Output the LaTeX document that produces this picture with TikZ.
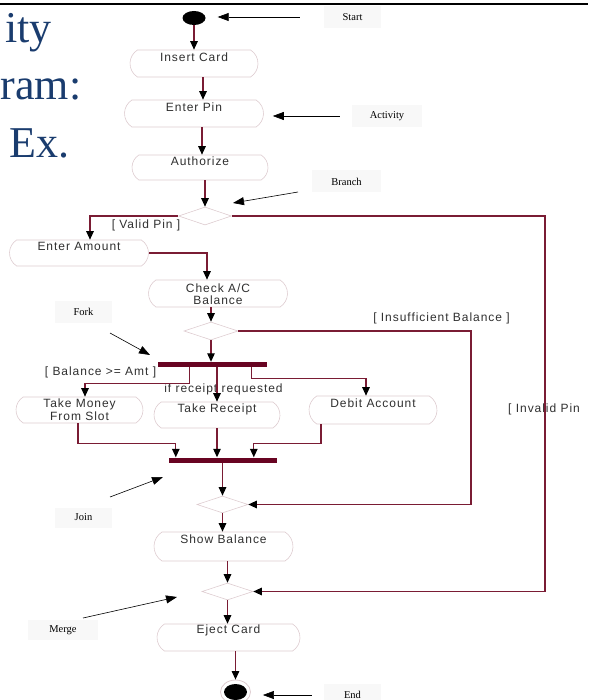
\documentclass[tikz,border=0pt]{standalone}
\usepackage{fontspec}
\usetikzlibrary{shapes.misc,shapes.geometric,arrows.meta,calc}
\newfontfamily\actfont{Liberation Sans}[LetterSpace=8]
\newfontfamily\notefont{Liberation Serif}
\newfontfamily\headfont{Liberation Serif}
\definecolor{flowc}{RGB}{122,28,52}
\definecolor{barc}{RGB}{104,4,34}
\definecolor{edgec}{RGB}{222,204,208}
\definecolor{headc}{RGB}{26,60,110}
\definecolor{txtc}{RGB}{48,48,48}
\definecolor{notebg}{RGB}{248,248,248}
\begin{document}
\begin{tikzpicture}[x=1pt,y=-1pt,
  actbox/.style={rounded rectangle, rounded rectangle arc length=115, draw=edgec,
    line width=0.6pt, fill=white, inner sep=0pt, minimum height=27pt},
  acttxt/.style={inner sep=0pt, text=txtc, align=center,
    font=\actfont\fontsize{12}{12.5}\selectfont},
  guard/.style={inner sep=0pt, text=txtc, font=\actfont\fontsize{12}{14}\selectfont},
  decision/.style={diamond, draw=edgec, line width=0.6pt, fill=white, inner sep=0pt,
    shape aspect=3, minimum width=53pt, minimum height=18pt},
  syncbar/.style={rectangle, fill=barc, inner sep=0pt, minimum height=5pt},
  flow/.style={draw=flowc, line width=1.1pt,
    -{Triangle[length=8.5pt,width=7.5pt,color=black]}},
  notebox/.style={rectangle, fill=notebg, inner sep=0pt, minimum width=57pt,
    minimum height=22pt, font=\notefont\fontsize{10.5}{12}\selectfont},
  note/.style={draw=black, line width=0.6pt, -{Triangle[length=11pt,width=8pt]}},
  headtxt/.style={inner sep=0pt, text=headc,
    font=\headfont\fontsize{44}{50}\selectfont}]
\useasboundingbox (0,0) rectangle (588,700);

% slide rule and heading
\draw[line width=2.5pt] (0,4) -- (588,4);
\node[headtxt, anchor=base east] (h1) at (52,43) {ity};
\node[headtxt, anchor=base west] (h2) at (0.5,100) {ram:};
\node[headtxt, anchor=base east] (h3) at (70,158) {Ex.};

% initial node
\node[ellipse, fill=black, inner sep=0pt, minimum width=23pt, minimum height=14pt] (start) at (194,18) {};

% activities
\node[actbox, minimum width=128pt] (ins) at (194,63.5) {};
\node[acttxt] (insT) at (194,57.5) {Insert Card};
\node[actbox, minimum width=139pt] (pin) at (194,113.5) {};
\node[acttxt] (pinT) at (194,107) {Enter Pin};
\node[actbox, minimum width=136pt, minimum height=25pt] (auth) at (200,167.5) {};
\node[acttxt] (authT) at (200,161) {Authorize};
\node[decision] (br1) at (205,216) {};
\node[actbox, minimum width=139pt, minimum height=26pt] (amt) at (79,253) {};
\node[acttxt] (amtT) at (79,246.5) {Enter Amount};
\node[actbox, minimum width=139pt] (chk) at (218,293.5) {};
\node[acttxt] (chkT) at (218,294) {Check A/C\\Balance};
\node[decision, minimum width=54pt] (br2) at (211,331) {};
\node[syncbar, minimum width=109pt] (fork) at (212.5,364.5) {};
\node[actbox, minimum width=127pt, minimum height=26pt] (money) at (79.5,410) {};
\node[acttxt] (moneyT) at (79.5,409.5) {Take Money\\From Slot};
\node[actbox, minimum width=126pt, minimum height=26pt] (rcpt) at (217,415) {};
\node[acttxt] (rcptT) at (217,409) {Take Receipt};
\node[actbox, minimum width=128pt, minimum height=28pt] (debit) at (373,410) {};
\node[acttxt] (debitT) at (373,403) {Debit Account};
\node[syncbar, minimum width=108pt] (join) at (223,460) {};
\node[decision, minimum width=51pt, minimum height=17pt] (br3) at (222.5,504.5) {};
\node[actbox, minimum width=139pt, minimum height=29pt] (show) at (223.5,546.5) {};
\node[acttxt] (showT) at (223.5,539) {Show Balance};
\node[decision, minimum width=51pt, minimum height=17pt] (merge) at (227.5,591.5) {};
\node[actbox, minimum width=143pt] (eject) at (228.5,637.5) {};
\node[acttxt] (ejectT) at (228.5,630) {Eject Card};

% final node
\node[ellipse, draw=edgec, line width=0.8pt, fill=white, inner sep=0pt,
  minimum width=30pt, minimum height=24pt] (endo) at (235.5,692) {};
\node[ellipse, fill=black, inner sep=0pt, minimum width=23pt, minimum height=16pt] (endi) at (235.5,692) {};

% guard conditions
\node[guard] (gValid) at (146,225) {[ Valid Pin ]};
\node[guard] (gInsuf) at (441.5,318) {[ Insufficient Balance ]};
\node[guard] (gBal) at (100.5,372) {[ Balance >= Amt ]};
\node[guard] (gRcpt) at (223.5,389) {if receipt requested};
\node[guard, anchor=west] (gInvalid) at (508,409) {[ Invalid Pin};

% control flow
\coordinate (invR) at (545,216);
\coordinate (insR) at (471,331);
\draw[flow] (start.south) -- (ins.north);
\draw[flow] ($(ins.south)+(9,0)$) -- ($(pin.north)+(9,0)$);
\draw[flow] ($(pin.south)+(8,0)$) -- ($(auth.north)+(2,0)$);
\draw[flow] ($(auth.south)+(5,0)$) -- (br1.north);
\draw[flow] (br1.west) -| ($(amt.north)+(11,0)$);
\draw[flow] (br1.east) -- (invR) |- (merge.east);
\draw[flow] (amt.east) -| ($(chk.north)+(-11,0)$);
\draw[flow] ($(chk.south)+(-7,0)$) -- (br2.north);
\draw[flow] (br2.east) -- (insR) |- (br3.east);
\draw[flow] (br2.south) -- (br2.south |- fork.north);
\draw[flow] ($(fork.south west)+(32,0)$) -- ++(0,16) -| ($(money.north)+(5.5,0)$);
\draw[flow] (fork.south -| rcpt.north) -- (rcpt.north);
\draw[flow] ($(fork.south west)+(94,0)$) -- ++(0,11) -| ($(debit.north)+(-7,0)$);
\draw[flow] ($(money.south)+(-1.5,0)$) -- ++(0,20) -| ($(join.north west)+(7,0)$);
\draw[flow] (rcpt.south) -- (rcpt.south |- join.north);
\draw[flow] ($(debit.south)+(-52,0)$) -- ++(0,19) -| ($(join.north west)+(85,0)$);
\draw[flow] (join.south -| br3.north) -- (br3.north);
\draw[flow] (br3.south) -- (show.north -| br3.south);
\draw[flow] (show.south -| merge.north) -- (merge.north);
\draw[flow] (merge.south) -- (eject.north -| merge.south);
\draw[flow] (eject.south -| endo.north) -- (endo.north);

% annotations
\node[notebox] (startL) at (352.5,17) {Start};
\node[notebox, minimum width=70pt] (actL) at (387,116) {Activity};
\node[notebox, minimum width=69pt] (brL) at (346.5,181.5) {Branch};
\node[notebox] (forkL) at (83.5,311.5) {Fork};
\node[notebox, minimum height=20pt] (joinL) at (83.5,517.5) {Join};
\node[notebox, minimum width=70pt, minimum height=20pt] (mergeL) at (63,630) {Merge};
\node[notebox] (endL) at (352.5,695) {End};

\coordinate (brTail) at (298,192);
\coordinate (brTip) at (233,203);
\coordinate (forkTail) at (110,333);
\coordinate (forkTip) at (150,355);
\coordinate (joinTail) at (110,497);
\coordinate (joinTip) at (163,477);
\coordinate (mergeTail) at (83,618);
\coordinate (mergeTip) at (177,597);
\draw[note, shorten <=24pt, shorten >=12pt] (startL.west) -- (start.east |- startL.west);
\draw[note, shorten <=12pt, shorten >=9pt] (actL.west) -- (pin.east |- actL.west);
\draw[note] (brTail) -- (brTip);
\draw[note] (forkTail) -- (forkTip);
\draw[note] (joinTail) -- (joinTip);
\draw[note] (mergeTail) -- (mergeTip);
\draw[note, shorten <=12pt, shorten >=12pt] (endL.west) -- (endo.east |- endL.west);
\end{tikzpicture}
\end{document}
